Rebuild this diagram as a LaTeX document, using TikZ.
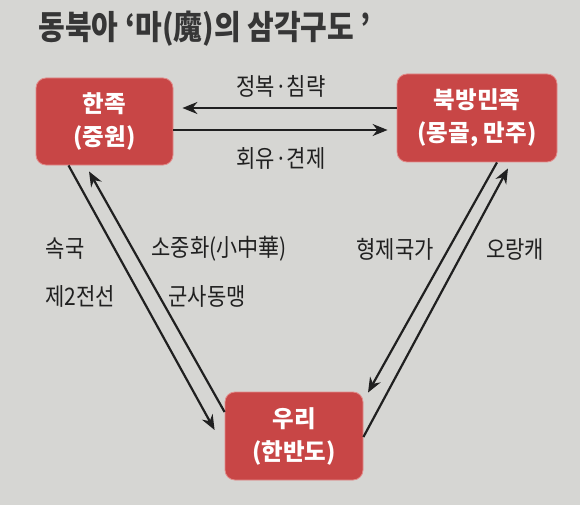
\documentclass[tikz,border=0pt]{standalone}
\usepackage{fontspec}
\usepackage{graphicx}
\setmainfont{Noto Sans CJK KR}
\usetikzlibrary{arrows.meta}
\definecolor{paper}{RGB}{214,214,211}
\definecolor{boxred}{RGB}{200,70,70}
\definecolor{boxedge}{RGB}{226,140,138}
\definecolor{ink}{RGB}{32,32,32}
\newcommand{\tallt}[1]{\scalebox{1}[1.15]{#1}}
\tikzset{
  nation/.style={rectangle, rounded corners=10pt, fill=boxred, draw=boxedge, line width=0.8pt,
    text=white, font=\fontsize{23.5}{33}\selectfont\bfseries, align=center, inner sep=0pt},
  rel/.style={draw=ink, line width=2.2pt, -{Stealth[length=15pt,width=12pt]}},
  lab/.style={text=ink, font=\fontsize{21}{25}\selectfont}
}
\begin{document}
\begin{tikzpicture}[x=1pt,y=-1pt]
    % Fond
    \fill[paper] (0,0) rectangle (580,505);
    \useasboundingbox (0,0) rectangle (580,505);

    % Titre
    \node[anchor=west, text=ink!90, font=\fontsize{29}{34}\selectfont\bfseries] (titre) at (35,29) {\tallt{동북아 ‘마(魔)의 삼각구도 ’}};

    % Les trois pôles
    \node[nation, minimum width=137pt, minimum height=87pt] (hanjok) at (104.5,121.5) {한족\\(중원)};
    \node[nation, minimum width=160pt, minimum height=88pt] (bukbang) at (477,118) {북방민족\\(몽골, 만주)};
    \node[nation, minimum width=138pt, minimum height=88pt] (uri) at (294,436) {우리\\(한반도)};

    % Relations horizontales
    \draw[rel, shorten >=9pt] ([yshift=10pt]bukbang.west) -- ([yshift=10pt]bukbang.west -| hanjok.east);
    \draw[rel, shorten >=9pt] ([yshift=-8.5pt]hanjok.east) -- ([yshift=-8.5pt]hanjok.east -| bukbang.west);
    \node[lab] (conquete) at (281,86) {\tallt{정복·침략}};
    \node[lab] (apaisement) at (281,158) {\tallt{회유·견제}};

    % Relations à gauche
    \draw[rel] ([xshift=-36pt]hanjok.south) -- ([xshift=-10pt,yshift=6pt]uri.west);
    \draw[rel] ([yshift=24pt]uri.west) -- ([xshift=-15.5pt,yshift=-6pt]hanjok.south);
    \node[lab] (vassal) at (65,249) {\tallt{속국}};
    \node[lab] (front) at (80,296) {\tallt{제2전선}};
    \node[lab] (sojunghwa) at (219,249) {\tallt{소중화(小中華)}};
    \node[lab] (alliance) at (207,296) {\tallt{군사동맹}};

    % Relations à droite
    \draw[rel] ([xshift=20pt]bukbang.south) -- ([xshift=74pt,yshift=-1pt]uri.north);
    \draw[rel] ([yshift=-1pt]uri.east) -- ([xshift=31pt,yshift=-6pt]bukbang.south);
    \node[lab] (freres) at (395,249) {\tallt{형제국가}};
    \node[lab] (barbares) at (515,249) {\tallt{오랑캐}};
\end{tikzpicture}
\end{document}
